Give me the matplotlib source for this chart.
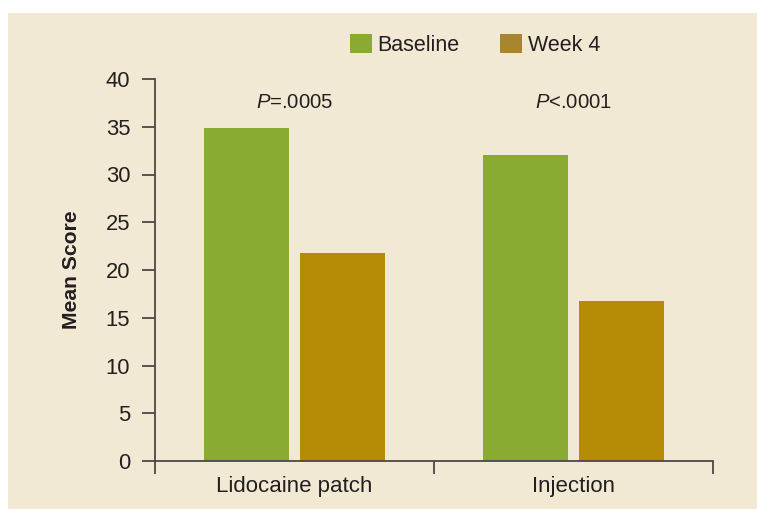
import matplotlib
matplotlib.use("Agg")
import matplotlib.pyplot as plt
from matplotlib.patches import Rectangle, Patch
import numpy as np

# Данные графика
categories = ["Lidocaine patch", "Injection"]
series_names = ["Baseline", "Week 4"]
baseline = [34.9, 32.0]
week4 = [21.8, 16.8]
p_labels = [r"$\mathit{P}$=.0005", r"$\mathit{P}$<.0001"]
y_ticks = [0, 5, 10, 15, 20, 25, 30, 35, 40]

# Цвета
bg = "#f2e9d5"
green = "#8aab31"
gold = "#b68b05"
gold_legend = "#a8862f"
ink = "#231f20"
axis_col = "#4d4845"

plt.rcParams["font.family"] = ["Liberation Sans", "DejaVu Sans"]
plt.rcParams["mathtext.fontset"] = "custom"
plt.rcParams["mathtext.rm"] = "Liberation Sans"
plt.rcParams["mathtext.it"] = "Liberation Sans:italic"

W, H = 757, 509
fig = plt.figure(figsize=(W / 100, H / 100), dpi=100, facecolor="white")

# Бежевая подложка (под осями)
fig.patches.append(Rectangle((8 / W, 0), 1, (H - 13) / H, transform=fig.transFigure,
                             facecolor=bg, edgecolor="none", zorder=-10))

ax = fig.add_axes([155 / W, (H - 461) / H, (713 - 155) / W, (461 - 79) / H])
ax.set_facecolor("none")
ax.set_zorder(1)

x = np.arange(len(categories))
bw = 0.305
off = 0.1705
ax.bar(x - off, baseline, bw, color=green, zorder=2)
ax.bar(x + off, week4, bw, color=gold, zorder=2)

for xi, lab in zip(x, p_labels):
    ax.text(xi, 37.5, lab, ha="center", va="center", fontsize=14.6, color=ink)

ax.set_xlim(-0.5, 1.5)
ax.set_ylim(0, 40)
ax.set_yticks(y_ticks)
ax.set_xticks(x)
ax.set_xticklabels(categories)
ax.set_xticks([-0.5, 0.5, 1.5], minor=True)

for s in ["top", "right"]:
    ax.spines[s].set_visible(False)
for s in ["left", "bottom"]:
    ax.spines[s].set_color(axis_col)
    ax.spines[s].set_linewidth(1.3)

ax.tick_params(axis="y", direction="out", length=9.4, width=1.3, color=axis_col,
               labelsize=15.8, labelcolor=ink, pad=8.5)
ax.tick_params(axis="x", which="major", length=0, labelsize=16, labelcolor=ink, pad=11)
ax.tick_params(axis="x", which="minor", direction="out", length=9.4, width=1.3, color=axis_col)

fig.text(71.5 / W, 1 - 270 / H, "Mean Score", rotation=90, ha="center", va="center",
         fontsize=15.2, fontweight="bold", color=ink)

handles = [Patch(facecolor=green, edgecolor="none"), Patch(facecolor=gold_legend, edgecolor="none")]
fig.legend(handles, series_names, loc="center left", bbox_to_anchor=(350 / W, 1 - 45 / H),
           bbox_transform=fig.transFigure, ncol=2, frameon=False, fontsize=15.5,
           handlelength=1.0, handleheight=1.0, handletextpad=0.27, columnspacing=1.9,
           borderpad=0, borderaxespad=0, labelcolor=ink)

fig.savefig("out.png", dpi=100, facecolor="white")
